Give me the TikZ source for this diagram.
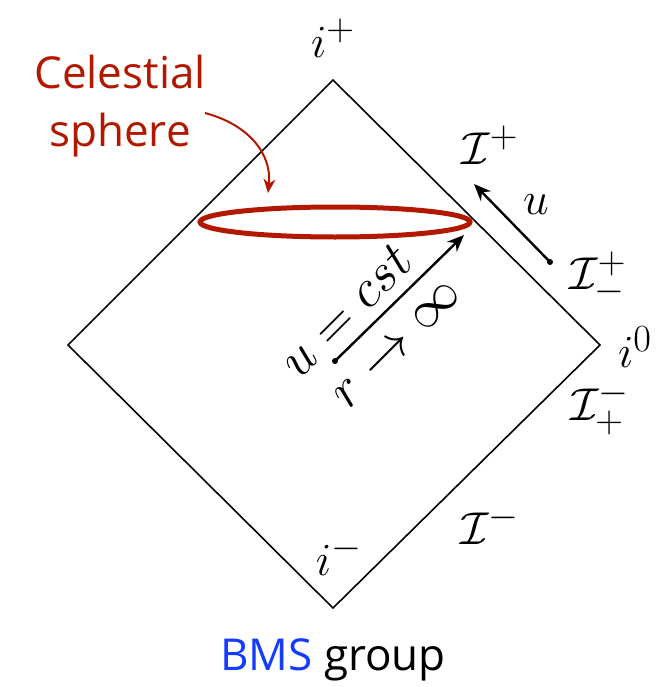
\documentclass[tikz,border=0pt]{standalone}
\usepackage{fontspec}
\setsansfont{Open Sans}
\usetikzlibrary{arrows.meta,shapes.geometric}
\definecolor{cred}{RGB}{178,24,0}
\definecolor{cblue}{RGB}{20,60,255}
\tikzset{
  lbl/.style={font=\Huge, inner sep=0pt, scale=1.85},
  rlbl/.style={font=\Huge, inner sep=0pt, scale=2.15, rotate=45},
  side/.style={draw=black, line width=1.6pt},
  darrow/.style={draw=black, line width=2.4pt, -{Stealth[length=17pt,width=14pt]}},
  sfl/.style={font=\sffamily\fontsize{44}{58}\selectfont, inner sep=0pt},
}
\begin{document}
\begin{tikzpicture}[x=1pt,y=-1pt]
\useasboundingbox (0,0) rectangle (671,687);
\coordinate (T) at (333,80);
\coordinate (L) at (68,345);
\coordinate (R) at (600,345);
\coordinate (B) at (333,608);
\draw[side, line join=miter] (T) -- (R) -- (B) -- (L) -- cycle;
% celestial sphere
\node[draw=cred, line width=5pt, ellipse, minimum width=270pt, minimum height=30pt, inner sep=0pt] (ell) at (335,222) {};
\node[sfl, text=cred, align=center] (cs) at (120,106) {Celestial\\sphere};
\coordinate (csa) at (205,113);
\draw[cred, line width=2pt, -{Stealth[length=14pt,width=12pt]}] (csa) .. controls (250,125) and (272,155) .. (268,193);
% u=cst arrow
\coordinate (ua) at (335,361);
\coordinate (ub) at (464,235);
\fill (ua) circle (3pt);
\draw[darrow] (ua) -- (ub);
\node[rlbl] (ucst) at (346,311) {$u=cst$};
\node[rlbl] (rinf) at (398,345) {$r\to\infty$};
% u arrow
\coordinate (va) at (550,262);
\coordinate (vb) at (474,184);
\fill (va) circle (3pt);
\draw[darrow] (va) -- (vb);
\node[lbl] (ulab) at (536,205) {$u$};
% labels
\node[lbl] (ip) at (333,38) {$i^+$};
\node[lbl] (Ip) at (490,145) {$\mathcal{I}^+$};
\node[lbl] (Ipm) at (598,278) {$\mathcal{I}^+_-$};
\node[lbl] (i0) at (635,347) {$i^0$};
\node[lbl] (Imp) at (600,408) {$\mathcal{I}^-_+$};
\node[lbl] (Im) at (490,525) {$\mathcal{I}^-$};
\node[lbl] (im) at (339,556) {$i^-$};
\node[sfl] (bms) at (333,660) {\textcolor{cblue}{BMS} group};
\end{tikzpicture}
\end{document}
